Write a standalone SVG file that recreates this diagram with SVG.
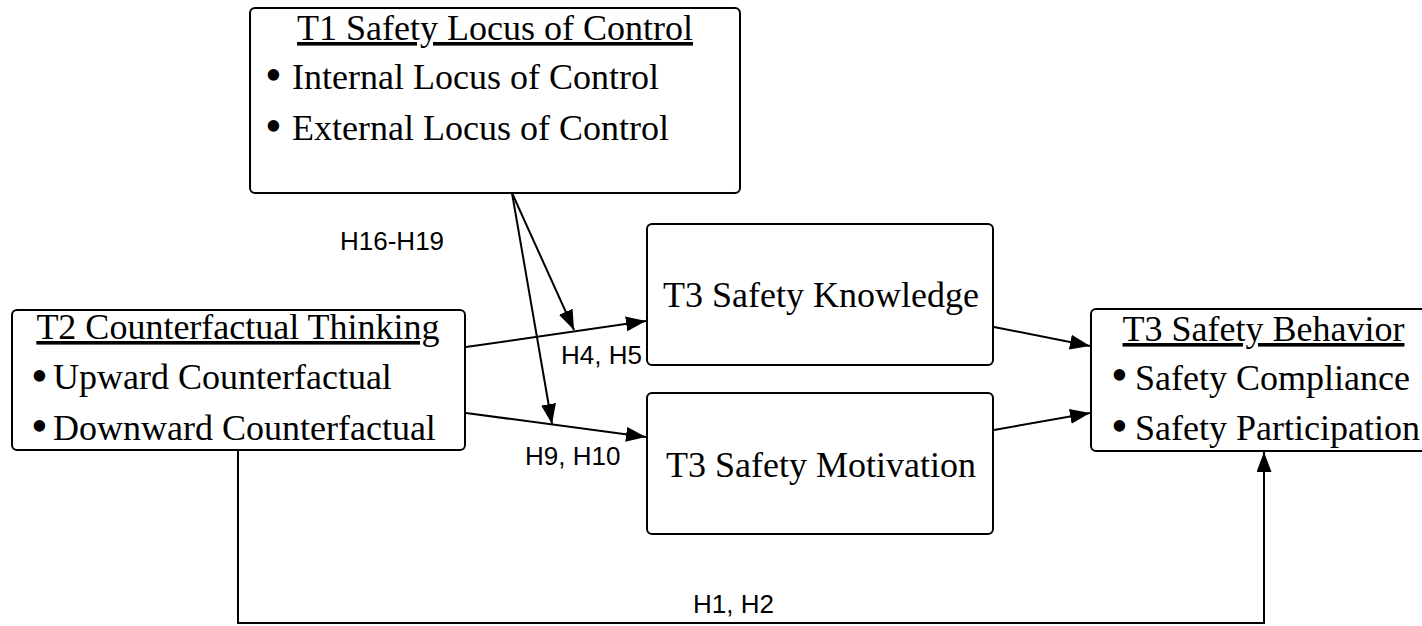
<svg xmlns="http://www.w3.org/2000/svg" width="1422" height="626" viewBox="0 0 1422 626">
<defs>
<style>
.box{fill:#fff;stroke:#000;stroke-width:2}
.t{font-family:"Liberation Serif","Times New Roman",serif;font-size:36px;fill:#000}
.u{text-decoration:underline}
.b{font-family:"Liberation Serif","Times New Roman",serif;font-size:48px;fill:#000}
.lbl{font-family:"Liberation Sans",Arial,sans-serif;font-size:26px;fill:#000}
.c{fill:none;stroke:#000;stroke-width:2}
</style>
<marker id="ah" markerUnits="userSpaceOnUse" markerWidth="22" markerHeight="16" refX="20" refY="7.5" orient="auto">
<path d="M0,0 L20,7.5 L0,15 z" fill="#000"/>
</marker>
</defs>
<rect width="1422" height="626" fill="#fff"/>
<g id="connectors">
<path class="c" d="M466,347 L646,321" marker-end="url(#ah)"/>
<path class="c" d="M466,413 L646,437" marker-end="url(#ah)"/>
<path class="c" d="M512,193 L574,330" marker-end="url(#ah)"/>
<path class="c" d="M512,193 L552,424" marker-end="url(#ah)"/>
<path class="c" d="M994,327 L1090,346" marker-end="url(#ah)"/>
<path class="c" d="M994,430 L1090,413" marker-end="url(#ah)"/>
<path class="c" d="M238,451 V623 H1264 V452" marker-end="url(#ah)"/>
<text class="lbl" x="340" y="250">H16-H19</text>
<text class="lbl" x="561" y="364">H4, H5</text>
<text class="lbl" x="525" y="465">H9, H10</text>
<text class="lbl" x="693" y="613">H1, H2</text>
</g>
<g id="t1">
<rect class="box" x="250" y="8" width="490" height="185" rx="5"/>
<text class="t u" x="495" y="40" text-anchor="middle">T1 Safety Locus of Control</text>
<text class="b" x="265" y="91">•</text>
<text class="t" x="292" y="89">Internal Locus of Control</text>
<text class="b" x="265" y="142">•</text>
<text class="t" x="292" y="140">External Locus of Control</text>
</g>
<g id="t2">
<rect class="box" x="12" y="310" width="453" height="140" rx="5"/>
<text class="t u" x="238" y="339" text-anchor="middle">T2 Counterfactual Thinking</text>
<text class="b" x="31" y="392">•</text>
<text class="t" x="53" y="389">Upward Counterfactual</text>
<text class="b" x="31" y="442">•</text>
<text class="t" x="53" y="440">Downward Counterfactual</text>
</g>
<g id="knowledge">
<rect class="box" x="647" y="224" width="346" height="141" rx="5"/>
<text class="t" x="821" y="307" text-anchor="middle">T3 Safety Knowledge</text>
</g>
<g id="motivation">
<rect class="box" x="647" y="393" width="346" height="141" rx="5"/>
<text class="t" x="821" y="477" text-anchor="middle">T3 Safety Motivation</text>
</g>
<g id="behavior">
<rect class="box" x="1091" y="309" width="345" height="142" rx="5"/>
<text class="t u" x="1263.5" y="341" text-anchor="middle">T3 Safety Behavior</text>
<text class="b" x="1111" y="391">•</text>
<text class="t" x="1135" y="390">Safety Compliance</text>
<text class="b" x="1111" y="442">•</text>
<text class="t" x="1135" y="440">Safety Participation</text>
</g>
</svg>
